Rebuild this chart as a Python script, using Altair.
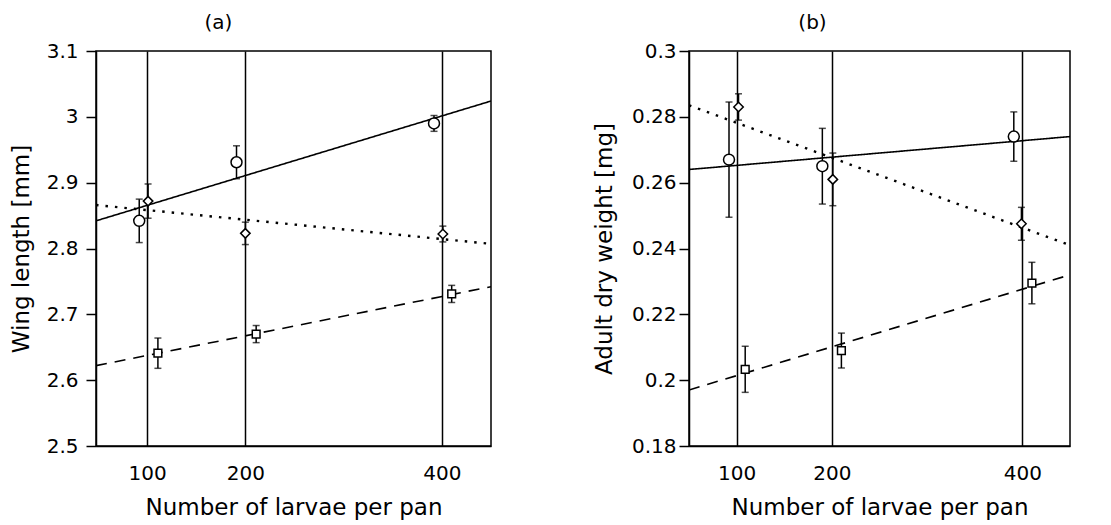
import altair as alt
import pandas as pd

density = [100, 200, 400]

# ---- panel (a): wing length [mm]
a_x_circle = [92, 191, 392]
a_circle = [2.842, 2.931, 2.990]
a_circle_err = [0.033, 0.025, 0.012]
a_x_diamond = [101, 200, 401]
a_diamond = [2.872, 2.823, 2.822]
a_diamond_err = [0.026, 0.017, 0.012]
a_x_square = [111, 211, 410]
a_square = [2.641, 2.670, 2.731]
a_square_err = [0.023, 0.013, 0.013]
a_line_x = [48, 450]
a_solid = [2.842, 3.024]
a_dotted = [2.866, 2.807]
a_dashed = [2.622, 2.742]
a_yticks = [2.5, 2.6, 2.7, 2.8, 2.9, 3.0, 3.1]

# ---- panel (b): adult dry weight [mg]
b_x_circle = [92, 190, 391]
b_circle = [0.267, 0.265, 0.274]
b_circle_err = [0.0175, 0.0115, 0.0075]
b_x_diamond = [102, 201, 399]
b_diamond = [0.283, 0.261, 0.2475]
b_diamond_err = [0.004, 0.008, 0.005]
b_x_square = [109, 210, 410]
b_square = [0.2033, 0.209, 0.2295]
b_square_err = [0.007, 0.0053, 0.0063]
b_line_x = [50, 450]
b_solid = [0.264, 0.274]
b_dotted = [0.2835, 0.241]
b_dashed = [0.197, 0.232]
b_yticks = [0.18, 0.2, 0.22, 0.24, 0.26, 0.28, 0.3]

FONT = "DejaVu Sans"


def points_df(xc, c, ce, xd, d, de, xs, s, se):
    rows = []
    for shape, xs_, ys_, es_ in (("circle", xc, c, ce), ("diamond", xd, d, de), ("square", xs, s, se)):
        for xv, yv, ev in zip(xs_, ys_, es_):
            rows.append({"x": xv, "y": yv, "lo": yv - ev, "hi": yv + ev, "shape": shape})
    return pd.DataFrame(rows)


def lines_df(lx, solid, dotted, dashed):
    rows = []
    for style, ys in (("solid", solid), ("dotted", dotted), ("dashed", dashed)):
        for xv, yv in zip(lx, ys):
            rows.append({"x": xv, "y": yv, "style": style})
    return pd.DataFrame(rows)


def panel(title, tdx, pts, lns, xdom, ydom, yticks, ytitle, lab_pad, title_pad, width):
    xs = alt.Scale(domain=xdom, nice=False, zero=False)
    ys = alt.Scale(domain=ydom, nice=False, zero=False)
    xaxis = alt.Axis(values=density, grid=True, gridColor="black", gridWidth=1.5, gridOpacity=1,
                     ticks=False, tickSize=0, labelPadding=17, titlePadding=13, format="d",
                     domainColor="black", domainWidth=1.5)
    yaxis = alt.Axis(values=yticks, grid=False, format="~g", tickSize=10, tickWidth=1.5,
                     labelPadding=lab_pad, titlePadding=title_pad, domainColor="black", domainWidth=1.5)
    X = alt.X("x:Q", scale=xs, axis=xaxis, title="Number of larvae per pan")
    Y = alt.Y("y:Q", scale=ys, axis=yaxis, title=ytitle)

    lb = alt.Chart(lns)
    styles = {"solid": ([1, 0], 1.6), "dotted": ([2.5, 7], 2.4), "dashed": ([11, 8], 1.6)}
    line_layers = [
        lb.transform_filter(alt.datum.style == st).mark_line(
            color="black", strokeWidth=styles[st][1], strokeDash=styles[st][0], clip=True)
        .encode(x=X, y=Y)
        for st in ("solid", "dotted", "dashed")
    ]
    pb = alt.Chart(pts)
    err = pb.mark_rule(color="black", strokeWidth=1.5).encode(
        x=alt.X("x:Q", scale=xs), y=alt.Y("lo:Q", scale=ys), y2="hi:Q")
    cap_lo = pb.mark_tick(color="black", orient="horizontal", size=7, thickness=1.5).encode(
        x=alt.X("x:Q", scale=xs), y=alt.Y("lo:Q", scale=ys))
    cap_hi = pb.mark_tick(color="black", orient="horizontal", size=7, thickness=1.5).encode(
        x=alt.X("x:Q", scale=xs), y=alt.Y("hi:Q", scale=ys))
    marks = pb.mark_point(filled=True, fill="white", stroke="black", strokeWidth=1.5, opacity=1).encode(
        x=alt.X("x:Q", scale=xs),
        y=alt.Y("y:Q", scale=ys),
        shape=alt.Shape("shape:N", scale=alt.Scale(domain=["circle", "diamond", "square"],
                                                   range=["circle", "diamond", "square"]), legend=None),
        size=alt.Size("shape:N", scale=alt.Scale(domain=["circle", "diamond", "square"],
                                                 range=[120, 60, 110]), legend=None),
    )
    return alt.layer(*line_layers, err, cap_lo, cap_hi, marks).properties(
        width=width, height=395,
        title=alt.TitleParams(title, fontSize=20, font=FONT, fontWeight="normal", color="black",
                              dx=tdx, offset=8),
    )


pa = panel("(a)", -75,
           points_df(a_x_circle, a_circle, a_circle_err, a_x_diamond, a_diamond, a_diamond_err,
                     a_x_square, a_square, a_square_err),
           lines_df(a_line_x, a_solid, a_dotted, a_dashed),
           [48, 450], [2.5, 3.1], a_yticks, "Wing length [mm]", 8, 13, 395)
pb_ = panel("(b)", -67,
            points_df(b_x_circle, b_circle, b_circle_err, b_x_diamond, b_diamond, b_diamond_err,
                      b_x_square, b_square, b_square_err),
            lines_df(b_line_x, b_solid, b_dotted, b_dashed),
            [50, 450], [0.18, 0.3], b_yticks, "Adult dry weight [mg]", 3, 15, 381)

chart = alt.hconcat(pa, pb_, spacing=100).properties(
    padding={"top": 4, "left": 1, "right": 0, "bottom": 0}
).configure_view(
    stroke="black", strokeWidth=1.5
).configure_axis(
    labelFont=FONT, labelFontSize=20, labelColor="black",
    titleFont=FONT, titleFontSize=23, titleFontWeight="normal", titleColor="black",
    tickColor="black",
)

chart.save("out.html", embed_options={"renderer": "svg", "actions": False})
